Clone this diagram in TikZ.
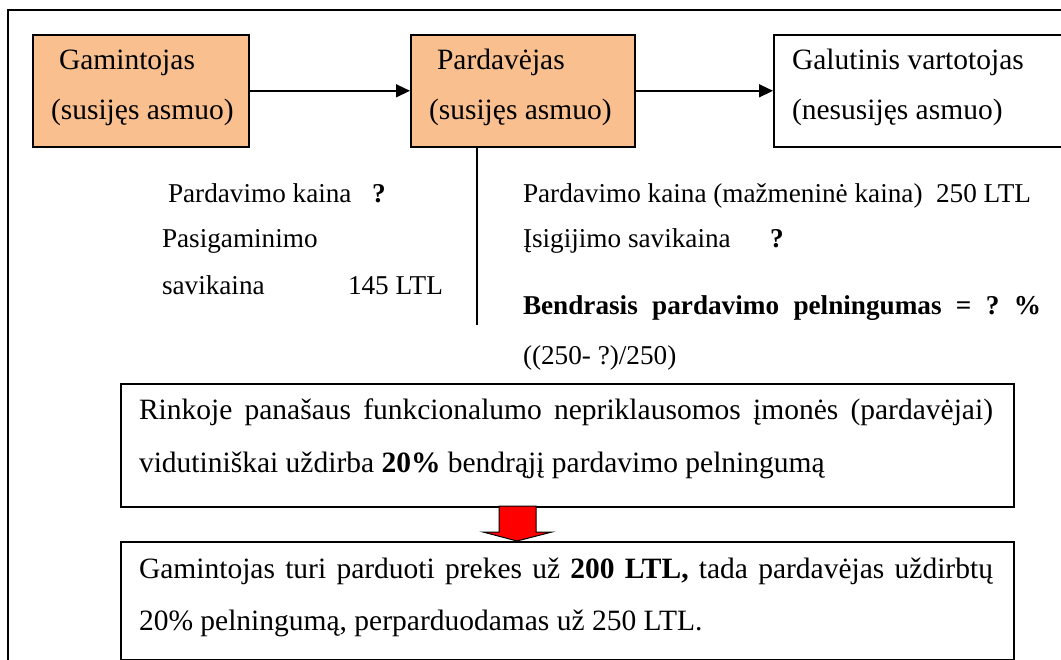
\documentclass[tikz,border=0pt]{standalone}
\usepackage{fontspec}
\setmainfont{Liberation Serif}
\usetikzlibrary{arrows.meta}

\definecolor{boxorange}{HTML}{F9BF8F}
\definecolor{blockred}{HTML}{FF0000}

\tikzset{
  frame/.style={draw=black, line width=1.6pt},
  party/.style={draw=black, line width=1.6pt, anchor=north west, inner sep=0pt,
                minimum width=#1, minimum height=112pt},
  orangeparty/.style={party=#1, fill=boxorange},
  txt/.style={anchor=base west, inner sep=0pt, outer sep=0pt,
              font=\fontsize{29.5}{35}\selectfont\frenchspacing},
  figtxt/.style={txt, font=\fontsize{27.2}{32}\selectfont\frenchspacing},
  flow/.style={draw=black, line width=1.5pt, -{Triangle[length=14pt,width=13pt]}},
  notebox/.style={draw=black, line width=1.6pt, anchor=north west, inner sep=0pt,
                  minimum width=893pt},
}

\begin{document}
\begin{tikzpicture}[x=1pt, y=-1pt]
  \useasboundingbox (0,0) rectangle (1061,660);
  \clip (0,0) rectangle (1061,660);
  \fill[white] (0,0) rectangle (1061,660);

  % outer frame
  \draw[frame] (8,10) rectangle (1080,680);

  % the three parties
  \node[orangeparty=216pt] (gam) at (32,34) {};
  \node[orangeparty=224pt] (pard) at (410,34) {};
  \node[party=320pt, fill=white] (gal) at (773,34) {};

  \node[txt] (gamA) at (59,70) {Gamintojas};
  \node[txt] (gamB) at (51,120) {(susijęs asmuo)};
  \node[txt] (pardA) at (437,70) {Pardavėjas};
  \node[txt] (pardB) at (429,120) {(susijęs asmuo)};
  \node[txt] (galA) at (792,70) {Galutinis vartotojas};
  \node[txt] (galB) at (792,120) {(nesusijęs asmuo)};

  \draw[flow] (gam.east) -- (pard.west);
  \draw[flow] (pard.east) -- (gal.west);

  % divider under the seller
  \coordinate (divend) at (477,325);
  \draw[line width=1.5pt] (divend |- pard.south) -- (divend);

  % producer figures
  \node[figtxt] (lp1) at (168,203) {\makebox[204pt][l]{Pardavimo kaina}\textbf{?}};
  \node[figtxt] (lp2) at (162,248) {Pasigaminimo};
  \node[figtxt] (lp3) at (162,295) {\makebox[186pt][l]{savikaina}145 LTL};

  % seller figures
  \node[figtxt] (rp1) at (523,203) {\makebox[413pt][l]{Pardavimo kaina (mažmeninė kaina)}250 LTL};
  \node[figtxt] (rp2) at (523,248) {\makebox[247pt][l]{Įsigijimo savikaina}\textbf{?}};
  \node[figtxt] (rp3) at (523,315) {\makebox[518pt][s]{\bfseries Bendrasis pardavimo pelningumas = ?\ \%}};
  \node[figtxt] (rp4) at (523,365) {((250- ?)/250)};

  % market comparison
  \node[notebox, minimum height=123pt] (market) at (120,383) {};
  \node[txt] (m1) at (139,420) {\makebox[854pt][s]{Rinkoje panašaus funkcionalumo nepriklausomos įmonės (pardavėjai)}};
  \node[txt] (m2) at (139,472) {vidutiniškai uždirba \textbf{20\%} bendrąjį pardavimo pelningumą};

  % conclusion
  \node[notebox, minimum height=118pt] (result) at (120,541) {};
  \node[txt] (r1) at (139,578) {\makebox[854pt][s]{Gamintojas turi parduoti prekes už \textbf{200 LTL,} tada pardavėjas uždirbtų}};
  \node[txt] (r2) at (139,630) {20\% pelningumą, perparduodamas už 250 LTL.};

  % block arrow from the market box to the conclusion
  \draw[line width=1pt, fill=blockred, line join=miter]
    (499,506) -- (536,506) -- (536,532) -- (552,532) -- (517,541)
    -- (483,532) -- (499,532) -- cycle;
\end{tikzpicture}
\end{document}
